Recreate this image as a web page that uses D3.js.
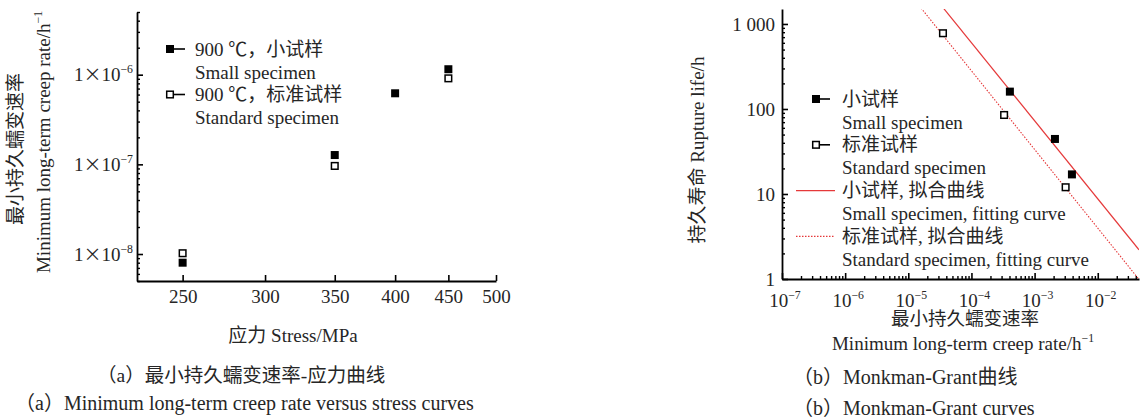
<!DOCTYPE html>
<html><head><meta charset="utf-8">
<script src="https://cdn.jsdelivr.net/npm/d3@7"></script>
<style>
html,body{margin:0;padding:0;background:#fff;}
svg{display:block;}
text{font-family:"Liberation Serif","Noto Sans CJK SC",serif;fill:#262626;}
</style></head><body>
<script>
// ---------- data: (a) creep rate vs stress ----------
const stressSmall = [250, 350, 400, 450];
const rateSmall   = [8.0e-9, 1.27e-7, 6.2e-7, 1.15e-6];
const stressStd   = [250, 350, 450];
const rateStd     = [1.02e-8, 9.6e-8, 9.1e-7];
const stressTicks = [250, 300, 350, 400, 450, 500];
const rateTicks   = [1e-8, 1e-7, 1e-6];
const rateTickExp = ["−8", "−7", "−6"];
const legendA = [["900 ℃，小试样", "Small specimen"], ["900 ℃，标准试样", "Standard specimen"]];

// ---------- data: (b) Monkman-Grant ----------
const mgSmallRate = [4.06e-4, 2.1e-3, 3.9e-3];
const mgSmallLife = [160, 44.4, 17];
const mgStdRate   = [3.54e-5, 3.29e-4, 3.1e-3];
const mgStdLife   = [778, 85, 12];
// Monkman-Grant fit: log(tr) = logC - m*log(rate)
const fitSmall = {m: 0.918, logC: -0.893};
const fitStd   = {m: 0.925, logC: -1.251};
const lifeTicks = [1, 10, 100, 1000];
const lifeTickLabels = ["1", "10", "100", "1 000"];
const mgRateTicks = [1e-7, 1e-6, 1e-5, 1e-4, 1e-3, 1e-2];
const mgRateExp = ["−7", "−6", "−5", "−4", "−3", "−2"];
const legendB = [["小试样", "Small specimen"], ["标准试样", "Standard specimen"], ["小试样, 拟合曲线", "Small specimen, fitting curve"], ["标准试样, 拟合曲线", "Standard specimen, fitting curve"]];

const W = 1142, H = 418, FS = 19;
const svg = d3.select("body").append("svg").attr("width", W).attr("height", H);

function sup(sel, base, exp, dy) {
  sel.append("tspan").text(base);
  sel.append("tspan").attr("dy", -(dy||8)).attr("font-size", FS*0.62).text(exp);
}

// ================= Chart (a) =================
const xA = d3.scaleLog().domain([226, 500]).range([137, 496]);
const yA = d3.scaleLog().domain([5e-9, 5e-6]).range([281, 12]);
const gA = svg.append("g");

const minorA = [];
for (let e = -9; e <= -6; e++) for (let k = 2; k <= 9; k++) {
  const v = k * Math.pow(10, e);
  if (v >= 5e-9 && v <= 5e-6) minorA.push(v);
}
gA.append("g").attr("transform", "translate(137,0)")
  .call(d3.axisLeft(yA).tickValues(minorA).tickSizeInner(-3).tickSizeOuter(0).tickFormat(""))
  .call(g => g.select(".domain").remove())
  .selectAll("line").attr("stroke", "#000").attr("stroke-width", 1.4);

const yAxA = gA.append("g").attr("transform", "translate(137,0)")
  .call(d3.axisLeft(yA).tickValues(rateTicks).tickSizeInner(-6).tickSizeOuter(0).tickFormat(""));
yAxA.select(".domain").attr("stroke", "#000").attr("stroke-width", 1.8);
yAxA.selectAll("line").attr("stroke", "#000").attr("stroke-width", 1.6);
rateTicks.forEach((v, i) => {
  const t = gA.append("text").attr("x", 133).attr("y", yA(v)).attr("text-anchor", "end")
    .attr("dy", "0.35em").attr("font-size", FS);
  t.append("tspan").text("1");
  t.append("tspan").attr("font-family", "Noto Sans CJK SC").attr("font-size", 18).text("×");
  t.append("tspan").text("10");
  t.append("tspan").attr("dy", -8).attr("font-size", FS*0.62).text(rateTickExp[i]);
});

const xAxA = gA.append("g").attr("transform", "translate(0,281)")
  .call(d3.axisBottom(xA).tickValues(stressTicks).tickSizeInner(-6).tickSizeOuter(0).tickPadding(9)
    .tickFormat(d3.format("d")));
xAxA.select(".domain").attr("stroke", "#000").attr("stroke-width", 1.8);
xAxA.selectAll("line").attr("stroke", "#000").attr("stroke-width", 1.6);
xAxA.selectAll("text").attr("font-size", FS).attr("font-family", "Liberation Serif").attr("fill", "#262626");

gA.selectAll(".ps").data(stressSmall).join("rect")
  .attr("x", (d) => xA(d) - 4).attr("y", (d, i) => yA(rateSmall[i]) - 4)
  .attr("width", 8).attr("height", 8).attr("fill", "#000");
gA.selectAll(".po").data(stressStd).join("rect")
  .attr("x", (d) => xA(d) - 3.3).attr("y", (d, i) => yA(rateStd[i]) - 3.3)
  .attr("width", 6.6).attr("height", 6.6).attr("fill", "#fff").attr("stroke", "#000").attr("stroke-width", 1.5);

legendA.forEach((lines, i) => {
  const y0 = 49 + i * 45.5;
  gA.append("line").attr("x1", 170).attr("x2", 185).attr("y1", y0).attr("y2", y0).attr("stroke", "#000").attr("stroke-width", 1.6);
  if (i === 0) gA.append("rect").attr("x", 166).attr("y", y0 - 4).attr("width", 8).attr("height", 8).attr("fill", "#000");
  else gA.append("rect").attr("x", 166.7).attr("y", y0 - 3.3).attr("width", 6.6).attr("height", 6.6).attr("fill", "#fff").attr("stroke", "#000").attr("stroke-width", 1.5);
  lines.forEach((s, j) => gA.append("text").attr("x", 195).attr("y", y0 + j * 23).attr("dy", "0.35em").attr("font-size", FS).text(s));
});

gA.append("text").attr("transform", "translate(15,149) rotate(-90)").attr("text-anchor", "middle")
  .attr("dy", "0.35em").attr("font-size", FS).text("最小持久蠕变速率");
{
  const t = gA.append("text").attr("transform", "translate(43,142) rotate(-90)").attr("text-anchor", "middle")
    .attr("dy", "0.35em").attr("font-size", FS);
  sup(t, "Minimum long-term creep rate/h", "−1", 8);
}
gA.append("text").attr("x", 293).attr("y", 335).attr("text-anchor", "middle").attr("dy", "0.35em")
  .attr("font-size", FS).text("应力 Stress/MPa");
gA.append("text").attr("x", 97).attr("y", 375).attr("dy", "0.35em").attr("font-size", 19.5).text("（a）最小持久蠕变速率-应力曲线");
gA.append("text").attr("x", 15).attr("y", 403).attr("dy", "0.35em").attr("font-size", 20).text("（a）Minimum long-term creep rate versus stress curves");

// ================= Chart (b) =================
const xB = d3.scaleLog().domain([1e-7, 0.045]).range([782, 1139]);
const yB = d3.scaleLog().domain([1, 1500]).range([279, 9]);
const gB = svg.append("g");

svg.append("defs").append("clipPath").attr("id", "clipB").append("rect")
  .attr("x", 782).attr("y", 9).attr("width", 1139 - 782).attr("height", 279 - 9);

const minorY = [], minorX = [];
for (let e = 0; e <= 3; e++) for (let k = 2; k <= 9; k++) { const v = k * Math.pow(10, e); if (v <= 1500) minorY.push(v); }
for (let e = -7; e <= -2; e++) for (let k = 2; k <= 9; k++) { const v = k * Math.pow(10, e); if (v <= 0.045) minorX.push(v); }
gB.append("g").attr("transform", "translate(782,0)")
  .call(d3.axisLeft(yB).tickValues(minorY).tickSizeInner(-3).tickSizeOuter(0).tickFormat(""))
  .call(g => g.select(".domain").remove())
  .selectAll("line").attr("stroke", "#000").attr("stroke-width", 1.4);
gB.append("g").attr("transform", "translate(0,279)")
  .call(d3.axisBottom(xB).tickValues(minorX).tickSizeInner(-3).tickSizeOuter(0).tickFormat(""))
  .call(g => g.select(".domain").remove())
  .selectAll("line").attr("stroke", "#000").attr("stroke-width", 1.4);

const yAxB = gB.append("g").attr("transform", "translate(782,0)")
  .call(d3.axisLeft(yB).tickValues(lifeTicks).tickSizeInner(-6).tickSizeOuter(0).tickPadding(7)
    .tickFormat((d, i) => lifeTickLabels[i]));
yAxB.select(".domain").attr("stroke", "#000").attr("stroke-width", 1.8);
yAxB.selectAll("line").attr("stroke", "#000").attr("stroke-width", 1.6);
yAxB.selectAll("text").attr("font-size", FS).attr("font-family", "Liberation Serif").attr("fill", "#262626");

const xAxB = gB.append("g").attr("transform", "translate(0,279)")
  .call(d3.axisBottom(xB).tickValues(mgRateTicks).tickSizeInner(-6).tickSizeOuter(0).tickFormat(""));
xAxB.select(".domain").attr("stroke", "#000").attr("stroke-width", 1.8);
xAxB.selectAll("line").attr("stroke", "#000").attr("stroke-width", 1.6);
mgRateTicks.forEach((v, i) => {
  const t = gB.append("text").attr("x", xB(v) + 3).attr("y", 300).attr("text-anchor", "middle")
    .attr("dy", "0.35em").attr("font-size", FS);
  sup(t, "10", mgRateExp[i], 8);
});

const lineB = d3.line().x(d => xB(d[0])).y(d => yB(d[1]));
function fitPts(f) { return xB.domain().map(r => [r, Math.pow(10, f.logC - f.m * Math.log10(r))]); }
const red = "#e5393a";
gB.append("path").attr("d", lineB(fitPts(fitSmall))).attr("clip-path", "url(#clipB)")
  .attr("fill", "none").attr("stroke", red).attr("stroke-width", 1.2);
gB.append("path").attr("d", lineB(fitPts(fitStd))).attr("clip-path", "url(#clipB)")
  .attr("fill", "none").attr("stroke", red).attr("stroke-width", 1.1).attr("stroke-dasharray", "1.5,1.5");

gB.selectAll(".ps").data(mgSmallRate).join("rect")
  .attr("x", d => xB(d) - 4).attr("y", (d, i) => yB(mgSmallLife[i]) - 4)
  .attr("width", 8).attr("height", 8).attr("fill", "#000");
gB.selectAll(".po").data(mgStdRate).join("rect")
  .attr("x", d => xB(d) - 3.3).attr("y", (d, i) => yB(mgStdLife[i]) - 3.3)
  .attr("width", 6.6).attr("height", 6.6).attr("fill", "#fff").attr("stroke", "#000").attr("stroke-width", 1.5);

legendB.forEach((lines, i) => {
  const y0 = 99 + i * 45.8;
  if (i < 2) {
    gB.append("line").attr("x1", 816).attr("x2", 830).attr("y1", y0).attr("y2", y0).attr("stroke", "#000").attr("stroke-width", 1.6);
    if (i === 0) gB.append("rect").attr("x", 812).attr("y", y0 - 4).attr("width", 8).attr("height", 8).attr("fill", "#000");
    else gB.append("rect").attr("x", 812.7).attr("y", y0 - 3.3).attr("width", 6.6).attr("height", 6.6).attr("fill", "#fff").attr("stroke", "#000").attr("stroke-width", 1.5);
  } else {
    const l = gB.append("line").attr("x1", 796).attr("x2", 835).attr("y1", y0).attr("y2", y0).attr("stroke", red).attr("stroke-width", 1.1);
    if (i === 3) l.attr("stroke-dasharray", "1.5,1.5");
  }
  lines.forEach((s, j) => gB.append("text").attr("x", 842).attr("y", y0 + j * 23).attr("dy", "0.35em").attr("font-size", FS).text(s));
});

gB.append("text").attr("transform", "translate(697,150) rotate(-90)").attr("text-anchor", "middle")
  .attr("dy", "0.35em").attr("font-size", FS).text("持久寿命 Rupture life/h");
gB.append("text").attr("x", 965).attr("y", 319).attr("text-anchor", "middle").attr("dy", "0.35em")
  .attr("font-size", 18.5).text("最小持久蠕变速率");
{
  const t = gB.append("text").attr("x", 963).attr("y", 343).attr("text-anchor", "middle").attr("dy", "0.35em").attr("font-size", FS);
  sup(t, "Minimum long-term creep rate/h", "−1", 8);
}
gB.append("text").attr("x", 793).attr("y", 377).attr("dy", "0.35em").attr("font-size", 20).text("（b）Monkman-Grant曲线");
gB.append("text").attr("x", 793).attr("y", 408).attr("dy", "0.35em").attr("font-size", 20).text("（b）Monkman-Grant curves");
</script>
</body></html>
